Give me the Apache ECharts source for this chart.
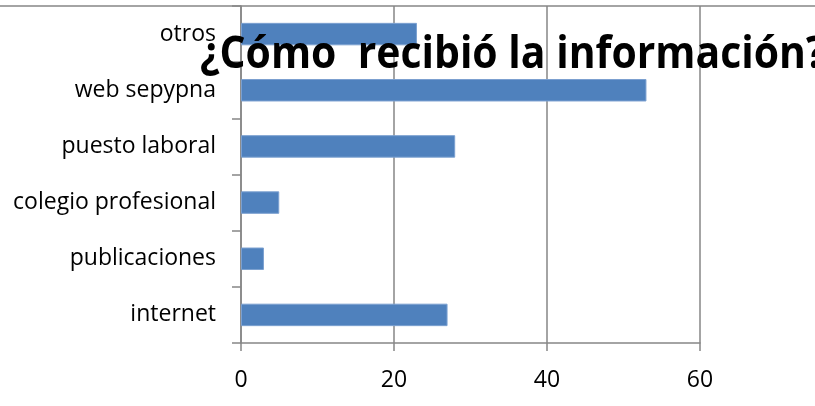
<!DOCTYPE html>
<html><head><meta charset="utf-8">
<script src="https://cdn.jsdelivr.net/npm/echarts@6/dist/echarts.min.js"></script>
<style>html,body{margin:0;padding:0;background:#fff}#c{width:815px;height:406px}</style>
</head><body><div id="c"></div>
<script>
const titleText = '¿Cómo  recibió la información?';
const categories = ['internet', 'publicaciones', 'colegio profesional', 'puesto laboral', 'web sepypna', 'otros'];
const values = [27, 3, 5, 28, 53, 23];
const xTicks = [0, 20, 40, 60];

const chart = echarts.init(document.getElementById('c'), null, {renderer: 'canvas'});
const F = '"Open Sans", sans-serif';
chart.setOption({
  animation: false,
  backgroundColor: '#fff',
  grid: {left: 241, right: 115, top: 6, bottom: 63, containLabel: false},
  xAxis: {
    type: 'value', min: xTicks[0], max: xTicks[xTicks.length - 1], interval: 20,
    axisLine: {show: true, lineStyle: {color: '#868686', width: 1.5}},
    axisTick: {show: true, length: 8, lineStyle: {color: '#868686', width: 1.5}},
    axisLabel: {color: '#000', fontFamily: F, fontSize: 23, margin: 26},
    splitLine: {show: true, lineStyle: {color: '#868686', width: 1.5}}
  },
  yAxis: {
    type: 'category', data: categories,
    axisLine: {show: true, lineStyle: {color: '#868686', width: 1.5}},
    axisTick: {show: true, length: 9, lineStyle: {color: '#868686', width: 1.5}},
    axisLabel: {color: '#000', fontFamily: F, fontSize: 23, margin: 25}
  },
  series: [{
    type: 'bar', data: values, barCategoryGap: '60%',
    itemStyle: {color: '#4F81BD', borderColor: '#7BA0D0', borderWidth: 1}
  }],
  graphic: [
    {type: 'line', shape: {x1: 0, y1: 6, x2: 815, y2: 6}, style: {stroke: '#868686', lineWidth: 1.5}, z: 0},
    {type: 'text', x: 200, y: 33, scaleX: 0.93, z: 100,
     style: {text: titleText, fill: '#000', font: 'bold 44px "Open Sans", sans-serif'}}
  ]
});
</script></body></html>
